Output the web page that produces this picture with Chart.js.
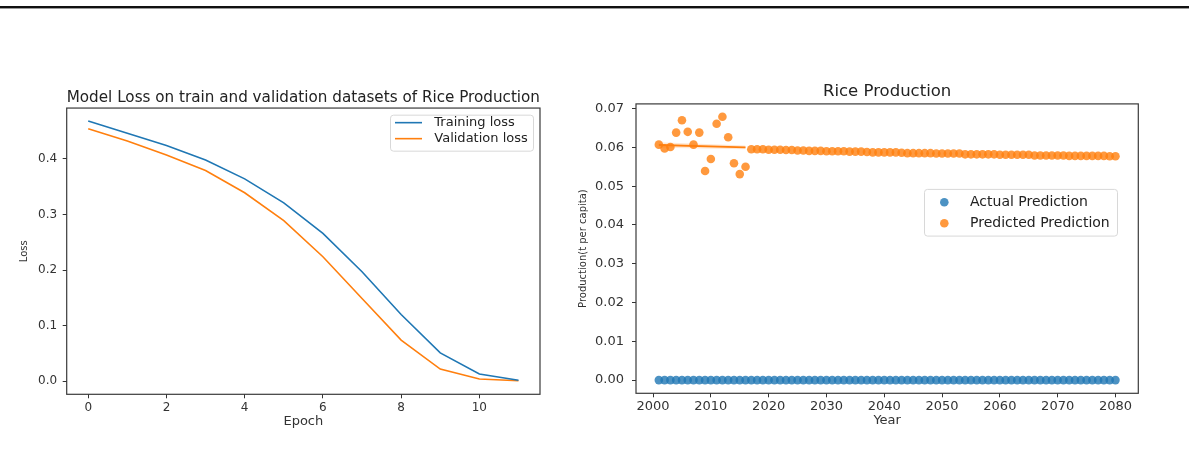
<!DOCTYPE html>
<html>
<head>
<meta charset="utf-8">
<script src="https://cdn.jsdelivr.net/npm/chart.js@4.4.1/dist/chart.umd.min.js"></script>
<style>
    html, body { margin: 0; padding: 0; background: #fff; }
    body { width: 1189px; height: 459px; position: relative; overflow: hidden; }
    .rule { position: absolute; left: 0; width: 1189px; }
    #rule-dark { top: 6px; height: 2px; background: #111; }
    #rule-light { top: 8px; height: 1px; background: #9a9a9a; }
    .panel { position: absolute; top: 0; height: 459px; }
    #loss-panel { left: 0; width: 560px; }
    #rice-panel { left: 560px; width: 629px; }
</style>
</head>
<body>
<div id="rule-dark" class="rule"></div>
<div id="rule-light" class="rule"></div>
<div id="loss-panel" class="panel"><canvas id="lossChart"></canvas></div>
<div id="rice-panel" class="panel"><canvas id="riceChart"></canvas></div>
<script>
Chart.defaults.font.family = "'DejaVu Sans', sans-serif";
Chart.defaults.color = '#333';
Chart.defaults.animation = false;

const BLUE = '#1f77b4';
const ORANGE = '#ff7f0e';

// --- Loss chart data ---
const epochs = [0, 1, 2, 3, 4, 5, 6, 7, 8, 9, 10, 11];
const trainingLoss = [0.468, 0.446, 0.424, 0.398, 0.364, 0.321, 0.266, 0.197, 0.120, 0.051, 0.013, 0.002];
const validationLoss = [0.454, 0.432, 0.407, 0.379, 0.339, 0.289, 0.224, 0.149, 0.074, 0.022, 0.004, 0.001];
const epochTicks = [0, 2, 4, 6, 8, 10];
const lossTicks = [0, 0.1, 0.2, 0.3, 0.4];

// --- Rice production data ---
const years = [
    2001, 2002, 2003, 2004, 2005, 2006, 2007, 2008, 2009, 2010,
    2011, 2012, 2013, 2014, 2015, 2016, 2017, 2018, 2019, 2020,
    2021, 2022, 2023, 2024, 2025, 2026, 2027, 2028, 2029, 2030,
    2031, 2032, 2033, 2034, 2035, 2036, 2037, 2038, 2039, 2040,
    2041, 2042, 2043, 2044, 2045, 2046, 2047, 2048, 2049, 2050,
    2051, 2052, 2053, 2054, 2055, 2056, 2057, 2058, 2059, 2060,
    2061, 2062, 2063, 2064, 2065, 2066, 2067, 2068, 2069, 2070,
    2071, 2072, 2073, 2074, 2075, 2076, 2077, 2078, 2079, 2080
];
const actualProduction = [
    0, 0, 0, 0, 0, 0, 0, 0, 0, 0,
    0, 0, 0, 0, 0, 0, 0, 0, 0, 0,
    0, 0, 0, 0, 0, 0, 0, 0, 0, 0,
    0, 0, 0, 0, 0, 0, 0, 0, 0, 0,
    0, 0, 0, 0, 0, 0, 0, 0, 0, 0,
    0, 0, 0, 0, 0, 0, 0, 0, 0, 0,
    0, 0, 0, 0, 0, 0, 0, 0, 0, 0,
    0, 0, 0, 0, 0, 0, 0, 0, 0, 0
];
const predictedProduction = [
    0.0607, 0.0597, 0.0601, 0.0638, 0.0670, 0.0640, 0.0607, 0.0638, 0.0539, 0.0570,
    0.0661, 0.0679, 0.0626, 0.0559, 0.0531, 0.0550, 0.0595, 0.0595, 0.0595, 0.0594,
    0.0594, 0.0594, 0.0593, 0.0593, 0.0592, 0.0592, 0.0591, 0.0591, 0.0591, 0.0590,
    0.0590, 0.0590, 0.0590, 0.0589, 0.0589, 0.0589, 0.0588, 0.0587, 0.0587, 0.0587,
    0.0587, 0.0587, 0.0586, 0.0585, 0.0585, 0.0585, 0.0585, 0.0585, 0.0584, 0.0584,
    0.0584, 0.0584, 0.0584, 0.0582, 0.0582, 0.0582, 0.0582, 0.0582, 0.0582, 0.0581,
    0.0581, 0.0581, 0.0581, 0.0581, 0.0581, 0.0579, 0.0579, 0.0579, 0.0579, 0.0579,
    0.0579, 0.0578, 0.0578, 0.0578, 0.0578, 0.0578, 0.0578, 0.0578, 0.0577, 0.0577
];
// regression fit over the first years, with its confidence band
const trendYears = [2001, 2016];
const trendLine = [0.0606, 0.0600];
const trendUpper = [0.0613, 0.0605];
const trendLower = [0.0599, 0.0595];
const yearTicks = [2000, 2010, 2020, 2030, 2040, 2050, 2060, 2070, 2080];
const productionTicks = [0, 0.01, 0.02, 0.03, 0.04, 0.05, 0.06, 0.07];

const toPoints = (xs, ys) => xs.map((x, i) => ({ x: x, y: ys[i] }));
const fixTicks = values => scale => { scale.ticks = values.map(v => ({ value: v })); };

// --- Plugins: matplotlib style frame and in-plot legend ---
const frame = {
    id: 'frame',
    afterDatasetsDraw(chart) {
        const { ctx, chartArea: a } = chart;
        ctx.save();
        ctx.strokeStyle = '#3a3a3a';
        ctx.lineWidth = 1.2;
        ctx.strokeRect(a.left, a.top, a.right - a.left, a.bottom - a.top);
        ctx.restore();
    }
};

const boxLegend = {
    id: 'boxLegend',
    afterDraw(chart, args, opts) {
        const { ctx, chartArea: a } = chart;
        const x = a.right - opts.right - opts.width;
        const y = a.top + opts.top;
        ctx.save();
        ctx.beginPath();
        ctx.roundRect(x + 0.5, y + 0.5, opts.width, opts.height, 3);
        ctx.fillStyle = 'rgba(255,255,255,0.85)';
        ctx.fill();
        ctx.strokeStyle = '#d8d8d8';
        ctx.lineWidth = 1;
        ctx.stroke();
        ctx.font = `${opts.fontSize}px 'DejaVu Sans'`;
        ctx.textBaseline = 'middle';
        const items = chart.data.datasets.filter(d => d.legendMarker);
        items.forEach((d, i) => {
            const cy = y + opts.firstRow + i * opts.rowGap;
            if (d.legendMarker === 'line') {
                ctx.strokeStyle = d.borderColor;
                ctx.lineWidth = 1.6;
                ctx.beginPath();
                ctx.moveTo(x + opts.handleX, cy);
                ctx.lineTo(x + opts.handleX + opts.handleLen, cy);
                ctx.stroke();
            } else {
                ctx.fillStyle = d.backgroundColor;
                ctx.beginPath();
                ctx.arc(x + opts.handleX, cy, opts.radius, 0, Math.PI * 2);
                ctx.fill();
            }
            ctx.fillStyle = '#222';
            ctx.fillText(d.label, x + opts.textX, cy);
        });
        ctx.restore();
    }
};

function axisGrid() {
    return { drawOnChartArea: false, drawTicks: true, tickLength: 4, color: '#333', tickWidth: 1 };
}

// --- Chart 1: Model loss ---
new Chart(document.getElementById('lossChart'), {
    type: 'line',
    data: {
        datasets: [
            { label: 'Training loss', legendMarker: 'line', data: toPoints(epochs, trainingLoss),
              borderColor: BLUE, borderWidth: 1.6, pointRadius: 0, tension: 0 },
            { label: 'Validation loss', legendMarker: 'line', data: toPoints(epochs, validationLoss),
              borderColor: ORANGE, borderWidth: 1.6, pointRadius: 0, tension: 0 }
        ]
    },
    options: {
        responsive: true,
        maintainAspectRatio: false,
        layout: { padding: { top: 88, left: 0, right: 20, bottom: 24.7 } },
        scales: {
            x: {
                type: 'linear', min: -0.55, max: 11.55,
                afterBuildTicks: fixTicks(epochTicks),
                afterFit: s => { s.height = 40; },
                grid: axisGrid(),
                border: { display: false },
                ticks: { font: { size: 12 }, padding: 2.2, maxRotation: 0 },
                title: { display: true, text: 'Epoch', font: { size: 13 }, padding: { top: 0, bottom: 4.5 } }
            },
            y: {
                min: -0.0234, max: 0.4914,
                afterBuildTicks: fixTicks(lossTicks),
                afterFit: s => { s.width = 66.7; },
                grid: axisGrid(),
                border: { display: false },
                ticks: { font: { size: 12 }, padding: 5.5, callback: v => v.toFixed(1) },
                title: { display: true, text: 'Loss', font: { size: 10 }, padding: { top: 18, bottom: 0 } }
            }
        },
        plugins: {
            legend: { display: false },
            tooltip: { enabled: false },
            title: {
                display: true, fullSize: false,
                text: 'Model Loss on train and validation datasets of Rice Production',
                font: { size: 16.3, weight: 'normal' }, color: '#222',
                padding: { top: 0, bottom: 0.5 }
            },
            boxLegend: { right: 7, top: 6.6, width: 143, height: 36, firstRow: 8, rowGap: 16,
                         handleX: 5, handleLen: 27, textX: 44.3, fontSize: 13 }
        }
    },
    plugins: [frame, boxLegend]
});

// --- Chart 2: Rice production ---
new Chart(document.getElementById('riceChart'), {
    type: 'line',
    data: {
        datasets: [
            { label: 'Actual Prediction', legendMarker: 'dot', data: toPoints(years, actualProduction),
              showLine: false, backgroundColor: 'rgba(31,119,180,0.8)', borderWidth: 0, pointRadius: 4.3, order: 4 },
            { label: 'Predicted Prediction', legendMarker: 'dot', data: toPoints(years, predictedProduction),
              showLine: false, backgroundColor: 'rgba(255,127,14,0.8)', borderWidth: 0, pointRadius: 4.3, order: 3 },
            { label: 'band low', data: toPoints(trendYears, trendLower), borderWidth: 0, pointRadius: 0,
              fill: false, order: 2 },
            { label: 'band high', data: toPoints(trendYears, trendUpper), borderWidth: 0, pointRadius: 0,
              fill: '-1', backgroundColor: 'rgba(255,127,14,0.18)', order: 1 },
            { label: 'fit', data: toPoints(trendYears, trendLine), borderColor: ORANGE, borderWidth: 1.8,
              pointRadius: 0, fill: false, order: 0 }
        ]
    },
    options: {
        responsive: true,
        maintainAspectRatio: false,
        layout: { padding: { top: 82.1, left: 0, right: 50.7, bottom: 25.7 } },
        scales: {
            x: {
                type: 'linear', min: 1997.05, max: 2083.95,
                afterBuildTicks: fixTicks(yearTicks),
                afterFit: s => { s.height = 40; },
                grid: axisGrid(),
                border: { display: false },
                ticks: { font: { size: 13 }, padding: 1.6, maxRotation: 0, callback: v => String(v) },
                title: { display: true, text: 'Year', font: { size: 13 }, padding: { top: 0, bottom: 4.8 } }
            },
            y: {
                min: -0.0034, max: 0.0712,
                afterBuildTicks: fixTicks(productionTicks),
                afterFit: s => { s.width = 76; },
                grid: axisGrid(),
                border: { display: false },
                ticks: { font: { size: 13 }, padding: 8, callback: v => v.toFixed(2) },
                title: { display: true, text: 'Production(t per capita)', font: { size: 10 }, padding: { top: 17.3, bottom: 0 } }
            }
        },
        plugins: {
            legend: { display: false },
            tooltip: { enabled: false },
            title: {
                display: true, fullSize: false,
                text: 'Rice Production',
                font: { size: 16.5, weight: 'normal' }, color: '#222',
                padding: { top: 0, bottom: 2 }
            },
            boxLegend: { right: 21.3, top: 85, width: 193, height: 46.7, firstRow: 13.4, rowGap: 21,
                         handleX: 20.3, radius: 4.3, textX: 46, fontSize: 14 }
        }
    },
    plugins: [frame, boxLegend]
});
</script>
</body>
</html>
